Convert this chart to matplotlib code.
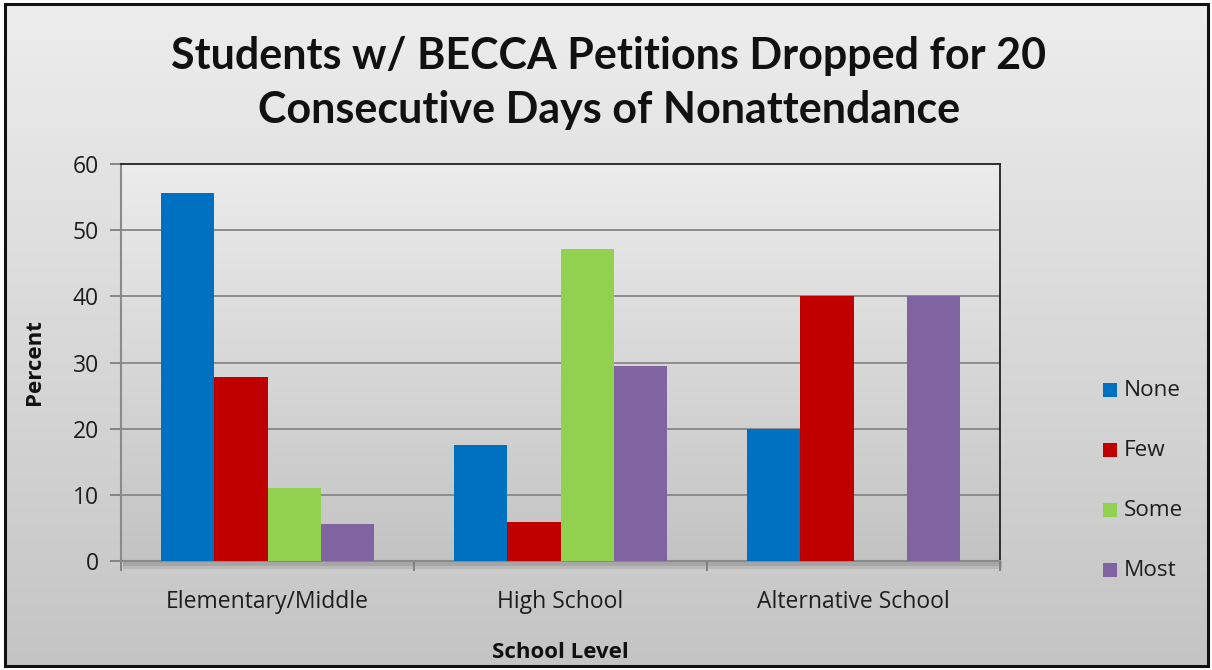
import numpy as np
import matplotlib
matplotlib.use("Agg")
import matplotlib.pyplot as plt
from matplotlib.patches import Rectangle

categories = ["Elementary/Middle", "High School", "Alternative School"]
series = ["None", "Few", "Some", "Most"]
none_vals = [55.6, 17.6, 20.0]
few_vals = [27.8, 5.9, 40.0]
some_vals = [11.1, 47.1, 0.0]
most_vals = [5.6, 29.4, 40.0]
colors = ["#0070C0", "#C00000", "#92D050", "#8064A2"]
yticks = [0, 10, 20, 30, 40, 50, 60]

W, H = 1212, 670
fig = plt.figure(figsize=(W / 100, H / 100), dpi=100)
fig.patch.set_facecolor("white")

# chart-area background with a vertical gradient and a dark frame
bg = fig.add_axes([0, 0, 1, 1], zorder=-10)
bg.set_axis_off()
grad = np.linspace(0, 1, 256)[:, None]
top = np.array([0.93, 0.93, 0.93])
bot = np.array([0.77, 0.77, 0.77])
img = top + (bot - top) * grad[..., None]
bg.imshow(img, extent=[5, W - 4, H - 4, 4], aspect="auto", origin="upper")
bg.set_xlim(0, W)
bg.set_ylim(H, 0)
bg.add_patch(Rectangle((5, 4), W - 9, H - 8, fill=False, edgecolor="#111111", lw=2.2))

# plot area
x0, x1, y0, y1 = 121, 1000, 164, 561
ax = fig.add_axes([x0 / W, 1 - y1 / H, (x1 - x0) / W, (y1 - y0) / H])
ptop = np.array([0.925, 0.925, 0.925])
pbot = np.array([0.765, 0.765, 0.765])
pimg = ptop + (pbot - ptop) * grad[..., None]
ax.imshow(pimg, extent=[-0.5, 2.5, 0, 60], aspect="auto", origin="upper", zorder=0)

# shadow under the plot area
bg.add_patch(Rectangle((x0 + 2, y1), x1 - x0, 5, color="#8a8a8a", alpha=0.55, lw=0, zorder=1))
bg.add_patch(Rectangle((x0 + 2, y1 + 5), x1 - x0, 3, color="#8a8a8a", alpha=0.25, lw=0, zorder=1))

ncat = len(categories)
nser = len(series)
bw = 1.0 / (nser + 1.5)
xs = np.arange(ncat)
vals = [none_vals, few_vals, some_vals, most_vals]
for i, (name, v, c) in enumerate(zip(series, vals, colors)):
    offs = (i - (nser - 1) / 2) * bw
    ax.bar(xs + offs, v, width=bw, color=c, label=name, zorder=3, lw=0)

ax.set_xlim(-0.5, 2.5)
ax.set_ylim(0, 60)
ax.set_yticks(yticks)
ax.set_yticklabels([str(t) for t in yticks])
for t in yticks[1:-1]:
    ax.axhline(t, color="#8c8c8c", lw=1.4, zorder=2)

font = ["Open Sans", "DejaVu Sans"]
bfont = ["Lato", "DejaVu Sans"]

ax.set_xticks(xs)
ax.set_xticklabels(categories)
ax.set_xticks([-0.5, 0.5, 1.5, 2.5], minor=True)
ax.tick_params(axis="x", which="major", length=0, pad=21, labelsize=16.5, labelcolor="#1e1e1e")
ax.tick_params(axis="x", which="minor", length=7, color="#777777", width=1.2)
ax.tick_params(axis="y", length=8, color="#777777", width=1.2, labelsize=16.5,
               labelcolor="#1e1e1e", pad=8)

for side in ["top", "right"]:
    ax.spines[side].set_color("#222222")
    ax.spines[side].set_linewidth(1.3)
ax.spines["left"].set_color("#8a8a8a")
ax.spines["left"].set_linewidth(1.5)
ax.spines["bottom"].set_color("#8a8a8a")
ax.spines["bottom"].set_linewidth(1.5)

for lab in ax.get_xticklabels() + ax.get_yticklabels():
    lab.set_family(font)

fig.text(609 / W, 1 - 83 / H, "Students w/ BECCA Petitions Dropped for 20\nConsecutive Days of Nonattendance",
         ha="center", va="center", fontsize=31, fontweight="bold", family=bfont,
         color="#111111", linespacing=1.45)
fig.text(35 / W, 1 - 362 / H, "Percent", rotation=90, ha="center", va="center",
         fontsize=16, fontweight="bold", family=font, color="#111111")
fig.text(560 / W, 1 - 652 / H, "School Level", ha="center", va="center",
         fontsize=16, fontweight="bold", family=font, color="#111111")

# legend
ly = [390, 450, 510, 570]
for name, c, y in zip(series, colors, ly):
    bg.add_patch(Rectangle((1103, y - 7), 14, 14, color=c, lw=0, zorder=2))
    bg.text(1124, y, name, ha="left", va="center", fontsize=16.2, family=font,
            color="#1e1e1e", zorder=2)

fig.savefig("out.png", dpi=100)
